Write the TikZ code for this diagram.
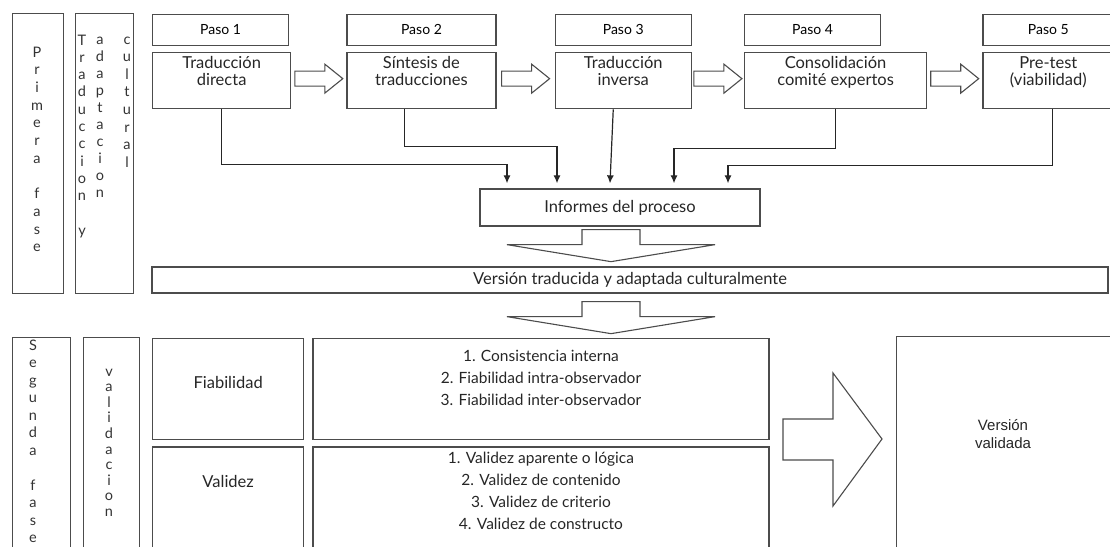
\documentclass[tikz,border=0pt]{standalone}
\usepackage{fontspec}
\setmainfont{Lato}
\newfontfamily\arialfont{Liberation Sans}
\usetikzlibrary{positioning,calc,arrows.meta}

\begin{document}
\begin{tikzpicture}[x=1pt, y=-1pt, semithick,
box/.style={draw=black!70, line width=1.3pt, inner sep=0pt},
paso/.style={box, minimum height=31pt, font=\fontsize{14}{16}\selectfont},
txt/.style={inner sep=0pt, align=center, text=black!85, font=\fontsize{16.5}{17}\selectfont},
items/.style={txt, font=\fontsize{15.5}{22}\selectfont},
conn/.style={-{Latex[length=8pt,width=7pt]}, line width=1.2pt, black!85},
blk/.style={draw=black!70, line width=1.1pt, fill=white},
vl/.style={inner sep=0pt, anchor=base, text=black!80, font=\fontsize{14.5}{15}\selectfont},
harr/.pic={\draw[blk] (-24,-7.5) -- (6,-7.5) -- (6,-14.5) -- (24,0) -- (6,14.5) -- (6,7.5) -- (-24,7.5) -- cycle;},
darr/.pic={\draw[blk] (-29,0) -- (29,0) -- (29,15) -- (104,15) -- (0,32) -- (-104,15) -- (-29,15) -- cycle;}]
\useasboundingbox (0,0) rectangle (1110,546);
\clip (0,0) rectangle (1110,546);

% first phase
\node[box, minimum width=51pt, minimum height=280pt, anchor=north west] (pf) at (12,13) {};
\node[box, minimum width=58pt, minimum height=280pt, anchor=north west] (tac) at (75,13) {};
\foreach \c [count=\i] in {P,r,i,m,e,r,a,{},f,a,s,e}
  \node[vl] (pf\i) at (37,{57+17.7*(\i-1)}) {\c};
\foreach \c [count=\i] in {T,r,a,d,u,c,c,i,o,n,{},y}
  \node[vl] (ta\i) at (82,{45+17.3*(\i-1)}) {\c};
\foreach \c [count=\i] in {a,d,a,p,t,a,c,i,o,n}
  \node[vl] (ad\i) at (100,{44+17*(\i-1)}) {\c};
\foreach \c [count=\i] in {c,u,l,t,u,r,a,l}
  \node[vl] (cu\i) at (127,{44+17.6*(\i-1)}) {\c};

% steps
\node[box, minimum width=138pt, minimum height=56pt, anchor=north west] (s1) at (152,52) {};
\node[box, minimum width=149pt, minimum height=56pt, right=55pt of s1] (s2) {};
\node[box, minimum width=136pt, minimum height=56pt, right=58pt of s2] (s3) {};
\node[box, minimum width=182pt, minimum height=56pt, right=52pt of s3] (s4) {};
\node[box, minimum width=131pt, minimum height=56pt, right=55pt of s4] (s5) {};
\node[paso, minimum width=136pt, above=6pt of s1.north west, anchor=south west] (p1) {Paso 1};
\node[paso, minimum width=149pt, above=6pt of s2.north west, anchor=south west] (p2) {Paso 2};
\node[paso, minimum width=136pt, above=6pt of s3.north west, anchor=south west] (p3) {Paso 3};
\node[paso, minimum width=136pt, above=6pt of s4.north west, anchor=south west] (p4) {Paso 4};
\node[paso, minimum width=131pt, above=6pt of s5.north west, anchor=south west] (p5) {Paso 5};
\node[txt, below=4pt of s1.north] (t1) {Traducción\\directa};
\node[txt, below=4pt of s2.north] (t2) {Síntesis de\\traducciones};
\node[txt, below=4pt of s3.north] (t3) {Traducción\\inversa};
\node[txt, below=4pt of s4.north] (t4) {Consolidación\\comité expertos};
\node[txt, below=4pt of s5.north] (t5) {Pre-test\\(viabilidad)};
\foreach \a/\b in {s1/s2, s2/s3, s3/s4, s4/s5}
  \pic at ($(\a.east)!0.5!(\b.west)+(0,-2)$) {harr};

% reports
\node[box, txt, minimum width=280pt, minimum height=37pt] (inf) at (620,207.5) {Informes del proceso};
\draw[conn] (s1.south) -- ++(0,55) -| ([xshift=-113pt,yshift=5pt]inf.north);
\draw[conn] ([xshift=-17pt]s2.south) -- ++(0,37) -| ([xshift=-63pt,yshift=5pt]inf.north);
\draw[conn] ([xshift=-10pt]s3.south) -- ([xshift=-10pt,yshift=5pt]inf.north);
\draw[conn] (s4.south) -- ++(0,39) -| ([xshift=54pt,yshift=5pt]inf.north);
\draw[conn] ([xshift=4pt]s5.south) -- ++(0,56) -| ([xshift=108pt,yshift=5pt]inf.north);
\pic at ($(inf.south)+(-9,3)$) {darr};

\node[box, txt, minimum width=956pt, minimum height=26pt] (ver) at (630,280) {Versión traducida y adaptada culturalmente};
\pic at ($(ver.south)+(-19,8)$) {darr};

% second phase
\node[box, minimum width=58pt, minimum height=223pt, anchor=north west] (sf) at (12,337) {};
\node[box, minimum width=56pt, minimum height=223pt, anchor=north west] (vd) at (83,337) {};
\foreach \c [count=\i] in {S,e,g,u,n,d,a,{},f,a,s,e}
  \node[vl] (sf\i) at (33,{350+17.5*(\i-1)}) {\c};
\foreach \c [count=\i] in {v,a,l,i,d,a,c,i,o,n}
  \node[vl] (vd\i) at (109,{376+15.6*(\i-1)}) {\c};

\node[box, minimum width=151pt, minimum height=101pt, anchor=north west] (fia) at (152,338) {};
\node[box, minimum width=456pt, minimum height=101pt, right=8pt of fia] (fiai) {};
\node[box, minimum width=151pt, minimum height=115pt, below=6pt of fia] (val) {};
\node[box, minimum width=456pt, minimum height=115pt, right=8pt of val] (vali) {};
\node[txt] (fial) at ($(fia.north)+(0,44)$) {Fiabilidad};
\node[txt] (vall) at ($(val.north)+(0,35)$) {Validez};
\node[items, below=12pt of fiai.north] (fiat) {1. Consistencia interna\\2. Fiabilidad intra-observador\\3. Fiabilidad inter-observador};
\node[items, below=5pt of vali.north] (valt) {1. Validez aparente o lógica\\2. Validez de contenido\\3. Validez de criterio\\4. Validez de constructo};

\draw[blk] (783,419) -- (833,419) -- (833,373) -- (882,439) -- (833,506) -- (833,460) -- (783,460) -- cycle;
\node[box, minimum width=224pt, minimum height=224pt, anchor=north west] (vv) at (896,336) {};
\node[txt, font=\arialfont\fontsize{15}{18}\selectfont] (vvt) at ($(vv.north west)+(107,98)$) {Versión\\validada};
\end{tikzpicture}
\end{document}
